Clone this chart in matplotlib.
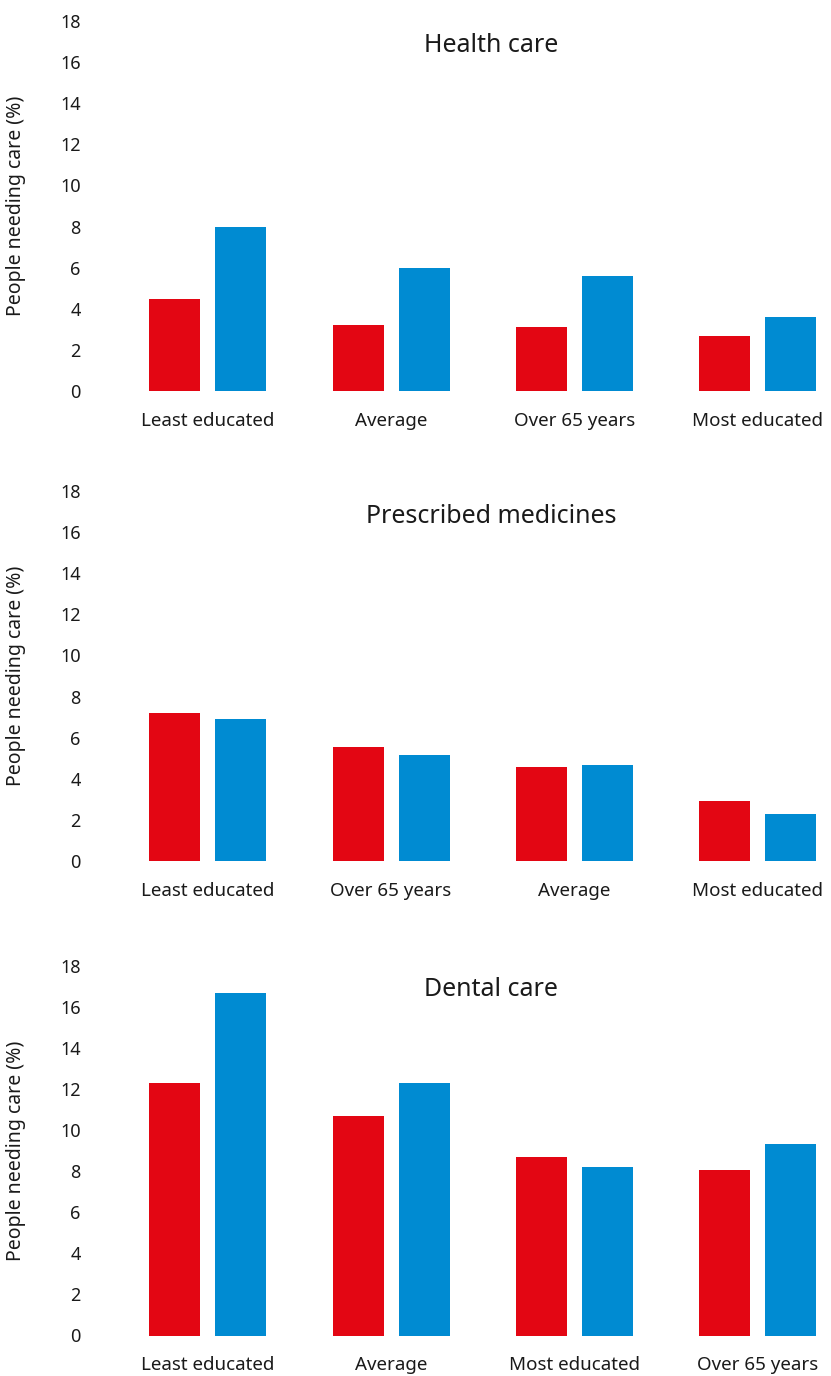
import matplotlib
matplotlib.use('Agg')

import numpy as np
import matplotlib.pyplot as plt

plt.rcParams['font.family'] = ['Noto Sans', 'DejaVu Sans']

RED = '#e30613'
BLUE = '#008bd2'
TEXT = '#1a1a1a'

titles = ['Health care', 'Prescribed medicines', 'Dental care']

health_cats = ['Least educated', 'Average', 'Over 65 years', 'Most educated']
health_red = [4.5, 3.2, 3.1, 2.7]
health_blue = [8.0, 6.0, 5.6, 3.6]

medicine_cats = ['Least educated', 'Over 65 years', 'Average', 'Most educated']
medicine_red = [7.2, 5.55, 4.57, 2.92]
medicine_blue = [6.9, 5.16, 4.67, 2.29]

dental_cats = ['Least educated', 'Average', 'Most educated', 'Over 65 years']
dental_red = [12.28, 10.68, 8.68, 8.05]
dental_blue = [16.66, 12.28, 8.2, 9.31]

yticks = list(range(0, 19, 2))

W, H = 831, 1376
fig = plt.figure(figsize=(W / 100, H / 100), dpi=100)

panels = [
    (health_cats, health_red, health_blue, 391, 52),
    (medicine_cats, medicine_red, medicine_blue, 861, 523),
    (dental_cats, dental_red, dental_blue, 1335.5, 996),
]

ax_left = 100
ax_right = W
step = 183.5
first_center = 207.5
bar_w = 51 / step
off = 33 / step

for i, (cats, red, blue, zero_px, title_px) in enumerate(panels):
    ax = fig.add_axes([ax_left / W, 1 - zero_px / H,
                       (ax_right - ax_left) / W, 370 / H])
    x = np.arange(len(cats))
    ax.bar(x - off, red, width=bar_w, color=RED, linewidth=0)
    ax.bar(x + off, blue, width=bar_w, color=BLUE, linewidth=0)
    ax.set_ylim(0, 18)
    ax.set_xlim((ax_left - first_center) / step, (ax_right - first_center) / step)
    ax.set_yticks(yticks)
    ax.set_yticklabels([str(t) for t in yticks], fontsize=13, color=TEXT)
    ax.set_xticks(x)
    ax.set_xticklabels(cats, fontsize=13.5, color=TEXT)
    ax.tick_params(axis='y', length=0, pad=14)
    ax.tick_params(axis='x', length=0, pad=15)
    for s in ax.spines.values():
        s.set_visible(False)
    ax.patch.set_alpha(0)

    fig.text(16 / W, 1 - (zero_px - 185) / H, 'People needing care (%)',
             rotation=90, ha='center', va='center', fontsize=14, color=TEXT)
    fig.text(491 / W, 1 - title_px / H, titles[i], ha='center', va='baseline',
             fontsize=18, color=TEXT)

plt.savefig('out.png', dpi=100)
plt.close()
